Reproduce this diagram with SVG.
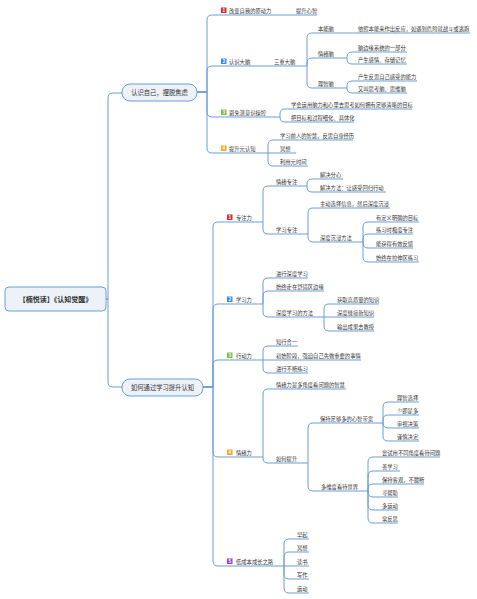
<svg xmlns="http://www.w3.org/2000/svg" width="477" height="599" viewBox="0 0 477 599">
<style>
.c{fill:none;stroke:#6a9fd4;stroke-width:1}
.box{fill:#edf2f9;stroke:#6a9fd4;stroke-width:1}
text{font-family:"Noto Sans CJK SC","Noto Sans",sans-serif;fill:#333}
.t{font-size:5.3px}
.m{font-size:6.3px;text-anchor:middle}
.r{font-size:7px;font-weight:bold;text-anchor:middle}
.n{font-size:4.5px;font-weight:bold;fill:#fff;text-anchor:middle}
</style>
<rect width="477" height="599" fill="#fff"/>
<g id="connectors">
<path class="c" d="M106,299H108V98Q108,93 113,93H122"/>
<path class="c" d="M106,299H108V382Q108,387 113,387H122"/>
<path class="c" d="M197,92H207V20Q207,15 212,15H317"/>
<path class="c" d="M197,92H207V71Q207,66 212,66H307"/>
<path class="c" d="M197,92H207V112Q207,117 212,117H280"/>
<path class="c" d="M197,92H207V148Q207,153 212,153H268"/>
<path class="c" d="M307,66V38Q307,33 312,33H470"/>
<path class="c" d="M307,66V63Q307,58 312,58H347"/>
<path class="c" d="M307,66V83Q307,88 312,88H347"/>
<path class="c" d="M347,58V57Q347,52 352,52H407"/>
<path class="c" d="M347,58V59Q347,64 352,64H407"/>
<path class="c" d="M347,88V86Q347,81 352,81H417"/>
<path class="c" d="M347,88V88Q347,93 352,93H407"/>
<path class="c" d="M280,117V114Q280,109 285,109H412"/>
<path class="c" d="M280,117V117Q280,122 285,122H354"/>
<path class="c" d="M268,153V145Q268,140 273,140H353"/>
<path class="c" d="M268,153H296"/>
<path class="c" d="M268,153V161Q268,166 273,166H308"/>
<path class="c" d="M203,387H213V227Q213,222 218,222H263"/>
<path class="c" d="M203,387H213V309Q213,304 218,304H263"/>
<path class="c" d="M203,387H213V365Q213,360 218,360H263"/>
<path class="c" d="M203,387H213V452Q213,457 218,457H263"/>
<path class="c" d="M203,387H213V561Q213,566 218,566H284"/>
<path class="c" d="M263,222V191Q263,186 268,186H307"/>
<path class="c" d="M263,222V229Q263,234 268,234H308"/>
<path class="c" d="M307,186V184Q307,179 312,179H343"/>
<path class="c" d="M307,186V187Q307,192 312,192H386"/>
<path class="c" d="M308,234V213Q308,208 313,208H390"/>
<path class="c" d="M308,234V237Q308,242 313,242H363"/>
<path class="c" d="M363,242V227Q363,222 368,222H419"/>
<path class="c" d="M363,242V239Q363,234 368,234H413"/>
<path class="c" d="M363,242V243Q363,248 368,248H413"/>
<path class="c" d="M363,242V257Q363,262 368,262H419"/>
<path class="c" d="M263,304V283Q263,278 268,278H308"/>
<path class="c" d="M263,304V296Q263,291 268,291H324"/>
<path class="c" d="M263,304V312Q263,317 268,317H324"/>
<path class="c" d="M324,317V309Q324,304 329,304H379"/>
<path class="c" d="M324,317H374"/>
<path class="c" d="M324,317V326Q324,331 329,331H374"/>
<path class="c" d="M263,360V351Q263,346 268,346H298"/>
<path class="c" d="M263,360H361"/>
<path class="c" d="M263,360V368Q263,373 268,373H308"/>
<path class="c" d="M263,457V394Q263,389 268,389H346"/>
<path class="c" d="M263,457V458Q263,463 268,463H308"/>
<path class="c" d="M308,463V428Q308,423 313,423H383"/>
<path class="c" d="M308,463V486Q308,491 313,491H368"/>
<path class="c" d="M383,423V407Q383,402 388,402H419"/>
<path class="c" d="M383,423V420Q383,415 388,415H419"/>
<path class="c" d="M383,423V423Q383,428 388,428H419"/>
<path class="c" d="M383,423V436Q383,441 388,441H419"/>
<path class="c" d="M368,491V462Q368,457 373,457H440"/>
<path class="c" d="M368,491V476Q368,471 373,471H400"/>
<path class="c" d="M368,491V489Q368,484 373,484H424"/>
<path class="c" d="M368,491V492Q368,497 373,497H398"/>
<path class="c" d="M368,491V505Q368,510 373,510H398"/>
<path class="c" d="M368,491V518Q368,523 373,523H398"/>
<path class="c" d="M284,566V544Q284,539 289,539H309"/>
<path class="c" d="M284,566V557Q284,552 289,552H309"/>
<path class="c" d="M284,566H309"/>
<path class="c" d="M284,566V574Q284,579 289,579H309"/>
<path class="c" d="M284,566V588Q284,593 289,593H309"/>
</g>
<g id="root"><rect class="box" x="5" y="287" width="101" height="24" rx="4"/><text class="r" x="55.5" y="301.5">【楠悦读】《认知觉醒》</text></g>
<g id="b1"><rect class="box" x="122" y="84" width="75" height="17" rx="8"/><text class="m" x="159.5" y="94.7">认识自己，摆脱焦虑</text></g>
<g id="b2"><rect class="box" x="122" y="379" width="81" height="17" rx="8"/><text class="m" x="162.5" y="389.7">如何通过学习提升认知</text></g>
<g id="a1"><rect x="221" y="7.5" width="5.5" height="5.5" fill="#e02b2b"/><text class="n" x="223.75" y="12">1</text><text class="t" x="229" y="13">改变自我的原动力</text></g>
<g id="a1-1"><text class="t" x="296" y="13">提升心智</text></g>
<g id="a2"><rect x="221" y="58.5" width="5.5" height="5.5" fill="#2f8ff0"/><text class="n" x="223.75" y="63">2</text><text class="t" x="229" y="64">认识大脑</text></g>
<g id="a2-1"><text class="t" x="274" y="64">三重大脑</text></g>
<g id="a2-1-1"><text class="t" x="318" y="31">本能脑</text></g>
<g id="a2-1-1-1"><text class="t" x="358" y="31">依照本能来作出反应，如遇到危险就战斗或逃跑</text></g>
<g id="a2-1-2"><text class="t" x="318" y="56">情绪脑</text></g>
<g id="a2-1-2-1"><text class="t" x="358" y="50">脑边缘系统的一部分</text></g>
<g id="a2-1-2-2"><text class="t" x="358" y="62">产生感情、存储记忆</text></g>
<g id="a2-1-3"><text class="t" x="318" y="86">理智脑</text></g>
<g id="a2-1-3-1"><text class="t" x="358" y="79">产生反思自己感受的能力</text></g>
<g id="a2-1-3-2"><text class="t" x="358" y="91">又叫思考脑、思维脑</text></g>
<g id="a3"><rect x="221" y="109.5" width="5.5" height="5.5" fill="#7cc043"/><text class="n" x="223.75" y="114">3</text><text class="t" x="229" y="115">避免潜意识操控</text></g>
<g id="a3-1"><text class="t" x="291" y="107">学会运用脑力和心里去思考如何拥有足够清晰的目标</text></g>
<g id="a3-2"><text class="t" x="291" y="120">把目标和过程细化、具体化</text></g>
<g id="a4"><rect x="221" y="145.5" width="5.5" height="5.5" fill="#f5a623"/><text class="n" x="223.75" y="150">4</text><text class="t" x="229" y="151">提升元认知</text></g>
<g id="a4-1"><text class="t" x="280" y="138">学习前人的智慧，反思自身经历</text></g>
<g id="a4-2"><text class="t" x="280" y="151">冥想</text></g>
<g id="a4-3"><text class="t" x="280" y="164">利用元时间</text></g>
<g id="c1"><rect x="227" y="214.5" width="5.5" height="5.5" fill="#e02b2b"/><text class="n" x="229.75" y="219">1</text><text class="t" x="236" y="220">专注力</text></g>
<g id="c1-1"><text class="t" x="276" y="184">情绪专注</text></g>
<g id="c1-1-1"><text class="t" x="320" y="177">解决分心</text></g>
<g id="c1-1-2"><text class="t" x="320" y="190">解决方法：让感受回归行动</text></g>
<g id="c1-2"><text class="t" x="276" y="232">学习专注</text></g>
<g id="c1-2-1"><text class="t" x="320" y="206">主动选择信息，然后深度沉浸</text></g>
<g id="c1-2-2"><text class="t" x="320" y="240">深度沉浸方法</text></g>
<g id="c1-2-2-1"><text class="t" x="376" y="220">有定义明确的目标</text></g>
<g id="c1-2-2-2"><text class="t" x="376" y="232">练习时极度专注</text></g>
<g id="c1-2-2-3"><text class="t" x="376" y="246">能获得有效反馈</text></g>
<g id="c1-2-2-4"><text class="t" x="376" y="260">始终在拉伸区练习</text></g>
<g id="c2"><rect x="227" y="296.5" width="5.5" height="5.5" fill="#2f8ff0"/><text class="n" x="229.75" y="301">2</text><text class="t" x="236" y="302">学习力</text></g>
<g id="c2-1"><text class="t" x="276" y="276">进行深度学习</text></g>
<g id="c2-2"><text class="t" x="276" y="289">始终走在舒适区边缘</text></g>
<g id="c2-3"><text class="t" x="276" y="315">深度学习的方法</text></g>
<g id="c2-3-1"><text class="t" x="337" y="302">获取高质量的知识</text></g>
<g id="c2-3-2"><text class="t" x="337" y="315">深度缝接新知识</text></g>
<g id="c2-3-3"><text class="t" x="337" y="329">输出成果去教授</text></g>
<g id="c3"><rect x="227" y="352.5" width="5.5" height="5.5" fill="#7cc043"/><text class="n" x="229.75" y="357">3</text><text class="t" x="236" y="358">行动力</text></g>
<g id="c3-1"><text class="t" x="276" y="344">知行合一</text></g>
<g id="c3-2"><text class="t" x="276" y="358">初始阶段，强迫自己先做重要的事情</text></g>
<g id="c3-3"><text class="t" x="276" y="371">进行不断练习</text></g>
<g id="c4"><rect x="227" y="449.5" width="5.5" height="5.5" fill="#f5a623"/><text class="n" x="229.75" y="454">4</text><text class="t" x="236" y="455">情绪力</text></g>
<g id="c4-1"><text class="t" x="276" y="387">情绪力是多角度看问题的智慧</text></g>
<g id="c4-2"><text class="t" x="276" y="461">如何提升</text></g>
<g id="c4-2-1"><text class="t" x="320" y="421">保持足够多的心智带宽</text></g>
<g id="c4-2-1-1"><text class="t" x="397" y="400">理智选择</text></g>
<g id="c4-2-1-2"><text class="t" x="397" y="413">少即是多</text></g>
<g id="c4-2-1-3"><text class="t" x="397" y="426">审视决策</text></g>
<g id="c4-2-1-4"><text class="t" x="397" y="439">谨慎决定</text></g>
<g id="c4-2-2"><text class="t" x="321" y="489">多维度看待世界</text></g>
<g id="c4-2-2-1"><text class="t" x="382" y="455">尝试用不同角度看待问题</text></g>
<g id="c4-2-2-2"><text class="t" x="382" y="469">善学习</text></g>
<g id="c4-2-2-3"><text class="t" x="382" y="482">保持客观，不臆断</text></g>
<g id="c4-2-2-4"><text class="t" x="382" y="495">寻帮助</text></g>
<g id="c4-2-2-5"><text class="t" x="382" y="508">多运动</text></g>
<g id="c4-2-2-6"><text class="t" x="382" y="521">常反思</text></g>
<g id="c5"><rect x="227" y="558.5" width="5.5" height="5.5" fill="#9b3fe0"/><text class="n" x="229.75" y="563">5</text><text class="t" x="236" y="564">低成本成长之路</text></g>
<g id="c5-1"><text class="t" x="297" y="537">早起</text></g>
<g id="c5-2"><text class="t" x="297" y="550">冥想</text></g>
<g id="c5-3"><text class="t" x="297" y="564">读书</text></g>
<g id="c5-4"><text class="t" x="297" y="577">写作</text></g>
<g id="c5-5"><text class="t" x="297" y="591">运动</text></g>
</svg>
